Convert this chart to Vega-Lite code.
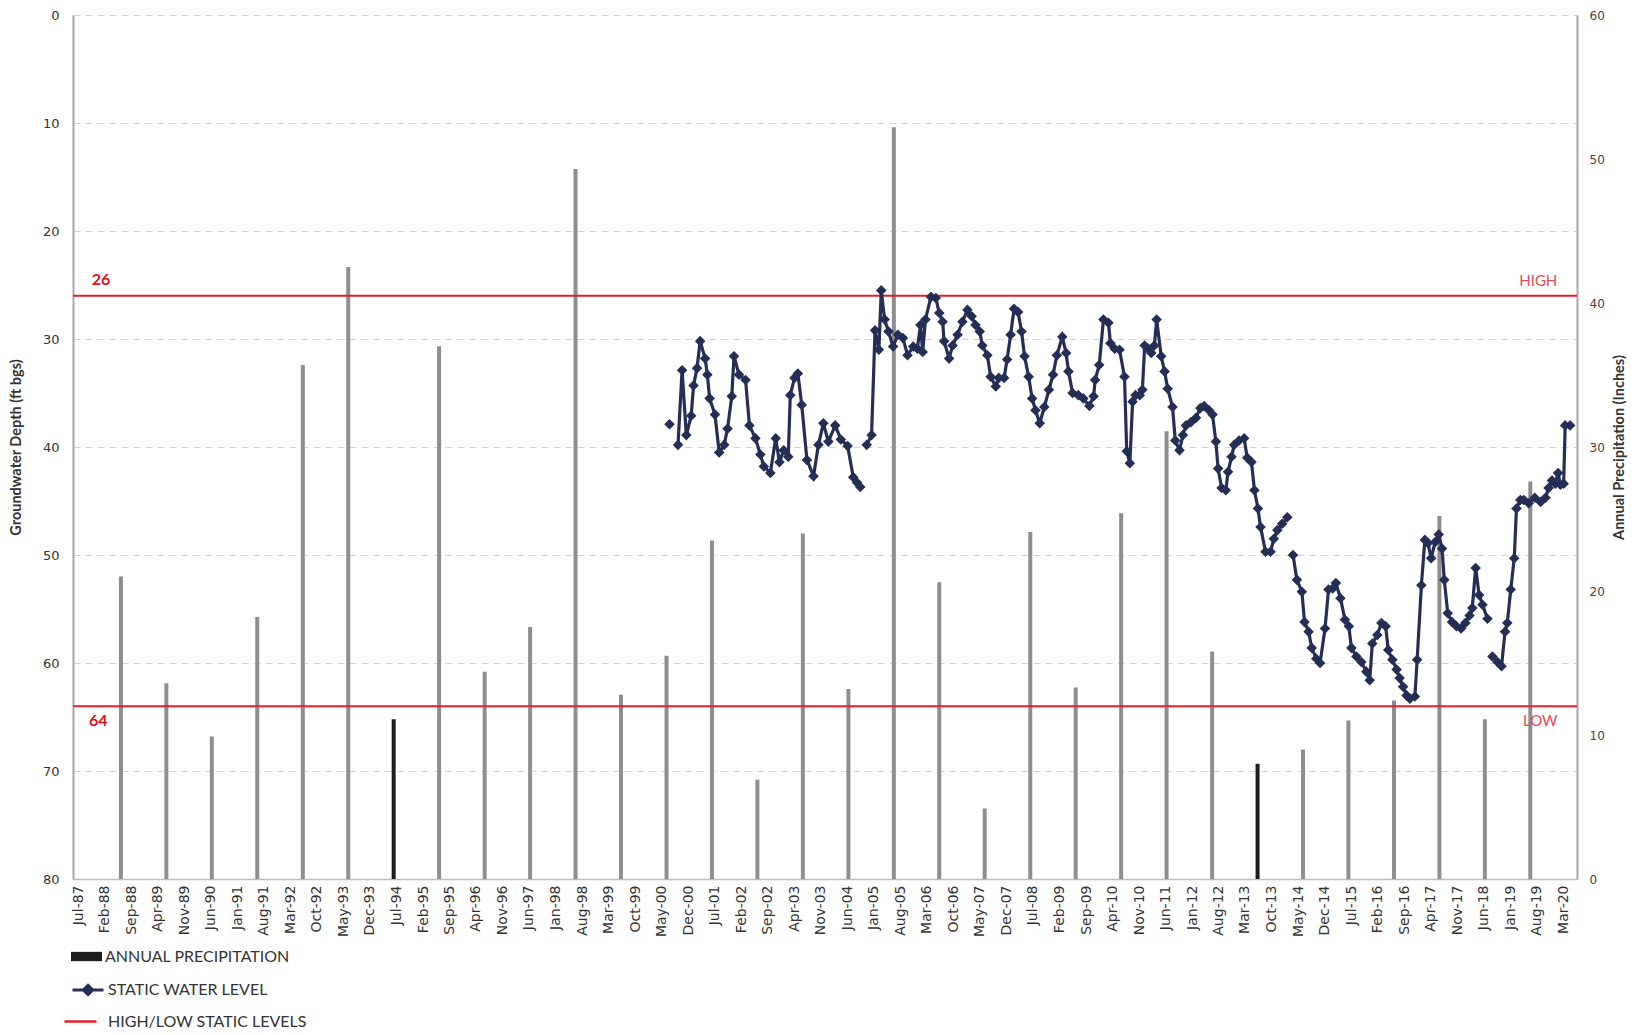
{
  "$schema": "https://vega.github.io/schema/vega-lite/v6.json",
  "width": 1504,
  "height": 864,
  "autosize": {"type": "none"},
  "padding": {"left": 73, "top": 15, "right": 71, "bottom": 156},
  "background": "white",
  "config": {"view": {"stroke": null}, "font": "DejaVu Sans", "axisX": {"labelOverlap": false, "tickCount": 200}},
  "datasets": {
    "precip": [
      {"date": "1988/06/10", "precip": 21.0},
      {"date": "1989/06/10", "precip": 13.6},
      {"date": "1990/06/10", "precip": 9.9},
      {"date": "1991/06/10", "precip": 18.2},
      {"date": "1992/06/10", "precip": 35.7},
      {"date": "1993/06/10", "precip": 42.5},
      {"date": "1994/06/10", "precip": 11.1},
      {"date": "1995/06/10", "precip": 37.0},
      {"date": "1996/06/10", "precip": 14.4},
      {"date": "1997/06/10", "precip": 17.5},
      {"date": "1998/06/10", "precip": 49.3},
      {"date": "1999/06/10", "precip": 12.8},
      {"date": "2000/06/10", "precip": 15.5},
      {"date": "2001/06/10", "precip": 23.5},
      {"date": "2002/06/10", "precip": 6.9},
      {"date": "2003/06/10", "precip": 24.0},
      {"date": "2004/06/10", "precip": 13.2},
      {"date": "2005/06/10", "precip": 52.2},
      {"date": "2006/06/10", "precip": 20.6},
      {"date": "2007/06/10", "precip": 4.9},
      {"date": "2008/06/10", "precip": 24.1},
      {"date": "2009/06/10", "precip": 13.3},
      {"date": "2010/06/10", "precip": 25.4},
      {"date": "2011/06/10", "precip": 31.1},
      {"date": "2012/06/10", "precip": 15.8},
      {"date": "2013/06/10", "precip": 8.0},
      {"date": "2014/06/10", "precip": 9.0},
      {"date": "2015/06/10", "precip": 11.0},
      {"date": "2016/06/10", "precip": 12.4},
      {"date": "2017/06/10", "precip": 25.2},
      {"date": "2018/06/10", "precip": 11.1},
      {"date": "2019/06/10", "precip": 27.6}
    ],
    "levels": [
      {"depth": 26},
      {"depth": 64}
    ],
    "water": [
      {"date": "2000/07/04", "depth": 37.9, "seg": 0},
      {"date": "2000/09/10", "depth": 39.8, "seg": 1},
      {"date": "2000/10/13", "depth": 32.9, "seg": 1},
      {"date": "2000/11/16", "depth": 38.9, "seg": 1},
      {"date": "2000/12/25", "depth": 37.1, "seg": 1},
      {"date": "2001/01/13", "depth": 34.3, "seg": 1},
      {"date": "2001/02/10", "depth": 32.7, "seg": 1},
      {"date": "2001/03/07", "depth": 30.2, "seg": 1},
      {"date": "2001/04/16", "depth": 31.8, "seg": 1},
      {"date": "2001/05/04", "depth": 33.3, "seg": 1},
      {"date": "2001/05/22", "depth": 35.5, "seg": 1},
      {"date": "2001/07/04", "depth": 37.0, "seg": 1},
      {"date": "2001/08/07", "depth": 40.5, "seg": 1},
      {"date": "2001/09/16", "depth": 39.8, "seg": 1},
      {"date": "2001/10/13", "depth": 38.3, "seg": 1},
      {"date": "2001/11/16", "depth": 35.3, "seg": 1},
      {"date": "2001/12/04", "depth": 31.6, "seg": 1},
      {"date": "2002/01/13", "depth": 33.3, "seg": 1},
      {"date": "2002/03/07", "depth": 33.8, "seg": 1},
      {"date": "2002/04/07", "depth": 38.0, "seg": 1},
      {"date": "2002/05/25", "depth": 39.2, "seg": 1},
      {"date": "2002/07/04", "depth": 40.7, "seg": 1},
      {"date": "2002/08/01", "depth": 41.8, "seg": 1},
      {"date": "2002/09/22", "depth": 42.4, "seg": 1},
      {"date": "2002/11/04", "depth": 39.2, "seg": 1},
      {"date": "2002/12/04", "depth": 41.4, "seg": 1},
      {"date": "2003/01/07", "depth": 40.3, "seg": 1},
      {"date": "2003/02/13", "depth": 40.9, "seg": 1},
      {"date": "2003/03/01", "depth": 35.2, "seg": 1},
      {"date": "2003/04/04", "depth": 33.6, "seg": 1},
      {"date": "2003/05/01", "depth": 33.2, "seg": 1},
      {"date": "2003/06/01", "depth": 36.1, "seg": 1},
      {"date": "2003/07/13", "depth": 41.2, "seg": 1},
      {"date": "2003/09/04", "depth": 42.7, "seg": 1},
      {"date": "2003/10/13", "depth": 39.8, "seg": 1},
      {"date": "2003/11/22", "depth": 37.8, "seg": 1},
      {"date": "2004/01/01", "depth": 39.5, "seg": 1},
      {"date": "2004/02/25", "depth": 38.0, "seg": 1},
      {"date": "2004/04/10", "depth": 39.3, "seg": 1},
      {"date": "2004/06/04", "depth": 39.9, "seg": 1},
      {"date": "2004/07/19", "depth": 42.8, "seg": 1},
      {"date": "2004/08/19", "depth": 43.3, "seg": 1},
      {"date": "2004/09/13", "depth": 43.7, "seg": 1},
      {"date": "2004/11/04", "depth": 39.8, "seg": 2},
      {"date": "2004/12/13", "depth": 38.9, "seg": 2},
      {"date": "2005/01/10", "depth": 29.2, "seg": 2},
      {"date": "2005/02/10", "depth": 31.0, "seg": 2},
      {"date": "2005/03/01", "depth": 25.5, "seg": 2},
      {"date": "2005/03/28", "depth": 28.2, "seg": 2},
      {"date": "2005/04/28", "depth": 29.3, "seg": 2},
      {"date": "2005/06/04", "depth": 30.7, "seg": 2},
      {"date": "2005/07/13", "depth": 29.6, "seg": 2},
      {"date": "2005/08/22", "depth": 29.9, "seg": 2},
      {"date": "2005/09/28", "depth": 31.5, "seg": 2},
      {"date": "2005/11/13", "depth": 30.7, "seg": 2},
      {"date": "2005/12/16", "depth": 30.9, "seg": 2},
      {"date": "2006/01/10", "depth": 28.7, "seg": 2},
      {"date": "2006/01/28", "depth": 31.2, "seg": 2},
      {"date": "2006/02/19", "depth": 28.2, "seg": 2},
      {"date": "2006/04/04", "depth": 26.1, "seg": 2},
      {"date": "2006/05/13", "depth": 26.2, "seg": 2},
      {"date": "2006/06/10", "depth": 27.6, "seg": 2},
      {"date": "2006/07/07", "depth": 28.4, "seg": 2},
      {"date": "2006/07/19", "depth": 30.2, "seg": 2},
      {"date": "2006/08/28", "depth": 31.8, "seg": 2},
      {"date": "2006/09/25", "depth": 30.6, "seg": 2},
      {"date": "2006/11/04", "depth": 29.6, "seg": 2},
      {"date": "2006/12/13", "depth": 28.4, "seg": 2},
      {"date": "2007/01/22", "depth": 27.3, "seg": 2},
      {"date": "2007/02/25", "depth": 27.9, "seg": 2},
      {"date": "2007/03/28", "depth": 28.7, "seg": 2},
      {"date": "2007/05/01", "depth": 29.3, "seg": 2},
      {"date": "2007/05/22", "depth": 30.6, "seg": 2},
      {"date": "2007/07/01", "depth": 31.5, "seg": 2},
      {"date": "2007/07/28", "depth": 33.5, "seg": 2},
      {"date": "2007/09/07", "depth": 34.4, "seg": 2},
      {"date": "2007/10/01", "depth": 33.6, "seg": 2},
      {"date": "2007/11/13", "depth": 33.6, "seg": 2},
      {"date": "2007/12/07", "depth": 31.9, "seg": 2},
      {"date": "2008/01/04", "depth": 29.6, "seg": 2},
      {"date": "2008/02/01", "depth": 27.2, "seg": 2},
      {"date": "2008/03/04", "depth": 27.5, "seg": 2},
      {"date": "2008/04/01", "depth": 29.3, "seg": 2},
      {"date": "2008/04/25", "depth": 31.6, "seg": 2},
      {"date": "2008/05/28", "depth": 33.5, "seg": 2},
      {"date": "2008/06/25", "depth": 35.5, "seg": 2},
      {"date": "2008/07/22", "depth": 36.6, "seg": 2},
      {"date": "2008/08/25", "depth": 37.8, "seg": 2},
      {"date": "2008/10/01", "depth": 36.3, "seg": 2},
      {"date": "2008/11/07", "depth": 34.7, "seg": 2},
      {"date": "2008/12/10", "depth": 33.3, "seg": 2},
      {"date": "2009/01/10", "depth": 31.5, "seg": 2},
      {"date": "2009/02/22", "depth": 29.8, "seg": 2},
      {"date": "2009/03/25", "depth": 31.3, "seg": 2},
      {"date": "2009/04/13", "depth": 33.0, "seg": 2},
      {"date": "2009/05/16", "depth": 35.0, "seg": 2},
      {"date": "2009/07/01", "depth": 35.2, "seg": 2},
      {"date": "2009/08/10", "depth": 35.5, "seg": 2},
      {"date": "2009/09/28", "depth": 36.2, "seg": 2},
      {"date": "2009/11/01", "depth": 35.3, "seg": 2},
      {"date": "2009/11/13", "depth": 33.8, "seg": 2},
      {"date": "2009/12/16", "depth": 32.4, "seg": 2},
      {"date": "2010/01/19", "depth": 28.2, "seg": 2},
      {"date": "2010/02/28", "depth": 28.5, "seg": 2},
      {"date": "2010/03/16", "depth": 30.4, "seg": 2},
      {"date": "2010/04/19", "depth": 30.9, "seg": 2},
      {"date": "2010/05/28", "depth": 31.0, "seg": 2},
      {"date": "2010/07/07", "depth": 33.5, "seg": 2},
      {"date": "2010/07/25", "depth": 40.4, "seg": 2},
      {"date": "2010/08/19", "depth": 41.5, "seg": 2},
      {"date": "2010/09/10", "depth": 35.8, "seg": 2},
      {"date": "2010/10/04", "depth": 35.2, "seg": 2},
      {"date": "2010/11/07", "depth": 35.2, "seg": 2},
      {"date": "2010/11/28", "depth": 34.7, "seg": 2},
      {"date": "2010/12/16", "depth": 30.6, "seg": 2},
      {"date": "2011/01/13", "depth": 30.9, "seg": 2},
      {"date": "2011/02/07", "depth": 31.3, "seg": 2},
      {"date": "2011/03/04", "depth": 30.6, "seg": 2},
      {"date": "2011/03/22", "depth": 28.2, "seg": 2},
      {"date": "2011/04/28", "depth": 31.6, "seg": 2},
      {"date": "2011/05/25", "depth": 33.0, "seg": 2},
      {"date": "2011/06/19", "depth": 34.6, "seg": 2},
      {"date": "2011/07/28", "depth": 36.3, "seg": 2},
      {"date": "2011/08/19", "depth": 39.4, "seg": 2},
      {"date": "2011/09/22", "depth": 40.3, "seg": 2},
      {"date": "2011/10/19", "depth": 38.9, "seg": 2},
      {"date": "2011/11/13", "depth": 38.0, "seg": 2},
      {"date": "2011/12/22", "depth": 37.7, "seg": 2},
      {"date": "2012/02/01", "depth": 37.3, "seg": 2},
      {"date": "2012/03/07", "depth": 36.4, "seg": 2},
      {"date": "2012/04/07", "depth": 36.2, "seg": 2},
      {"date": "2012/05/16", "depth": 36.6, "seg": 2},
      {"date": "2012/06/13", "depth": 37.0, "seg": 2},
      {"date": "2012/07/10", "depth": 39.5, "seg": 2},
      {"date": "2012/07/28", "depth": 42.0, "seg": 2},
      {"date": "2012/08/25", "depth": 43.8, "seg": 2},
      {"date": "2012/09/28", "depth": 44.0, "seg": 2},
      {"date": "2012/10/16", "depth": 42.3, "seg": 2},
      {"date": "2012/11/13", "depth": 40.9, "seg": 2},
      {"date": "2012/12/04", "depth": 39.8, "seg": 2},
      {"date": "2013/01/13", "depth": 39.4, "seg": 2},
      {"date": "2013/02/22", "depth": 39.2, "seg": 2},
      {"date": "2013/03/19", "depth": 41.0, "seg": 2},
      {"date": "2013/04/22", "depth": 41.4, "seg": 2},
      {"date": "2013/05/16", "depth": 44.0, "seg": 2},
      {"date": "2013/06/13", "depth": 45.7, "seg": 2},
      {"date": "2013/07/04", "depth": 47.4, "seg": 2},
      {"date": "2013/08/13", "depth": 49.7, "seg": 2},
      {"date": "2013/09/22", "depth": 49.7, "seg": 2},
      {"date": "2013/10/19", "depth": 48.5, "seg": 2},
      {"date": "2013/11/16", "depth": 47.7, "seg": 2},
      {"date": "2013/12/25", "depth": 47.1, "seg": 2},
      {"date": "2014/02/04", "depth": 46.5, "seg": 2},
      {"date": "2014/03/22", "depth": 50.0, "seg": 3},
      {"date": "2014/04/22", "depth": 52.3, "seg": 3},
      {"date": "2014/06/01", "depth": 53.4, "seg": 3},
      {"date": "2014/06/22", "depth": 56.2, "seg": 3},
      {"date": "2014/07/25", "depth": 57.1, "seg": 3},
      {"date": "2014/08/19", "depth": 58.6, "seg": 3},
      {"date": "2014/09/25", "depth": 59.6, "seg": 3},
      {"date": "2014/10/25", "depth": 60.0, "seg": 3},
      {"date": "2014/12/04", "depth": 56.8, "seg": 3},
      {"date": "2015/01/01", "depth": 53.2, "seg": 3},
      {"date": "2015/02/04", "depth": 53.1, "seg": 3},
      {"date": "2015/03/01", "depth": 52.6, "seg": 3},
      {"date": "2015/04/07", "depth": 54.0, "seg": 3},
      {"date": "2015/05/13", "depth": 56.0, "seg": 3},
      {"date": "2015/06/13", "depth": 56.6, "seg": 3},
      {"date": "2015/07/04", "depth": 58.6, "seg": 3},
      {"date": "2015/08/13", "depth": 59.4, "seg": 3},
      {"date": "2015/09/22", "depth": 59.9, "seg": 3},
      {"date": "2015/11/01", "depth": 60.8, "seg": 3},
      {"date": "2015/11/28", "depth": 61.6, "seg": 3},
      {"date": "2015/12/19", "depth": 58.2, "seg": 3},
      {"date": "2016/01/28", "depth": 57.4, "seg": 3},
      {"date": "2016/03/01", "depth": 56.3, "seg": 3},
      {"date": "2016/04/04", "depth": 56.6, "seg": 3},
      {"date": "2016/04/25", "depth": 58.8, "seg": 3},
      {"date": "2016/05/28", "depth": 59.7, "seg": 3},
      {"date": "2016/07/01", "depth": 60.6, "seg": 3},
      {"date": "2016/07/25", "depth": 61.4, "seg": 3},
      {"date": "2016/08/22", "depth": 62.2, "seg": 3},
      {"date": "2016/09/19", "depth": 63.0, "seg": 3},
      {"date": "2016/10/16", "depth": 63.3, "seg": 3},
      {"date": "2016/11/25", "depth": 63.1, "seg": 3},
      {"date": "2016/12/13", "depth": 59.7, "seg": 3},
      {"date": "2017/01/16", "depth": 52.8, "seg": 3},
      {"date": "2017/02/13", "depth": 48.6, "seg": 3},
      {"date": "2017/03/10", "depth": 48.9, "seg": 3},
      {"date": "2017/04/04", "depth": 50.3, "seg": 3},
      {"date": "2017/05/07", "depth": 48.8, "seg": 3},
      {"date": "2017/06/04", "depth": 48.1, "seg": 3},
      {"date": "2017/07/01", "depth": 49.4, "seg": 3},
      {"date": "2017/07/19", "depth": 52.3, "seg": 3},
      {"date": "2017/08/16", "depth": 55.4, "seg": 3},
      {"date": "2017/09/19", "depth": 56.2, "seg": 3},
      {"date": "2017/10/25", "depth": 56.6, "seg": 3},
      {"date": "2017/12/01", "depth": 56.8, "seg": 3},
      {"date": "2018/01/04", "depth": 56.3, "seg": 3},
      {"date": "2018/02/07", "depth": 55.6, "seg": 3},
      {"date": "2018/03/01", "depth": 54.9, "seg": 3},
      {"date": "2018/03/28", "depth": 51.2, "seg": 3},
      {"date": "2018/04/25", "depth": 53.7, "seg": 3},
      {"date": "2018/05/22", "depth": 54.6, "seg": 3},
      {"date": "2018/07/01", "depth": 55.9, "seg": 3},
      {"date": "2018/08/10", "depth": 59.4, "seg": 4},
      {"date": "2018/09/19", "depth": 59.9, "seg": 4},
      {"date": "2018/10/22", "depth": 60.3, "seg": 4},
      {"date": "2018/11/19", "depth": 57.1, "seg": 4},
      {"date": "2018/12/07", "depth": 56.3, "seg": 4},
      {"date": "2019/01/04", "depth": 53.2, "seg": 4},
      {"date": "2019/02/01", "depth": 50.3, "seg": 4},
      {"date": "2019/02/19", "depth": 45.7, "seg": 4},
      {"date": "2019/03/22", "depth": 44.9, "seg": 4},
      {"date": "2019/04/19", "depth": 44.9, "seg": 4},
      {"date": "2019/05/28", "depth": 45.2, "seg": 4},
      {"date": "2019/07/16", "depth": 44.7, "seg": 4},
      {"date": "2019/09/01", "depth": 45.1, "seg": 4},
      {"date": "2019/10/10", "depth": 44.7, "seg": 4},
      {"date": "2019/11/04", "depth": 43.8, "seg": 4},
      {"date": "2019/12/01", "depth": 43.1, "seg": 4},
      {"date": "2019/12/28", "depth": 43.4, "seg": 4},
      {"date": "2020/01/19", "depth": 42.4, "seg": 4},
      {"date": "2020/02/07", "depth": 43.5, "seg": 4},
      {"date": "2020/03/04", "depth": 43.4, "seg": 4},
      {"date": "2020/03/16", "depth": 38.0, "seg": 4},
      {"date": "2020/04/25", "depth": 38.0, "seg": 4}
    ]
  },
  "resolve": {"scale": {"y": "independent"}},
  "layer": [
    {
      "data": {"name": "precip"},
      "mark": {"type": "bar", "size": 4},
      "encoding": {
        "x": {
          "field": "date",
          "type": "temporal",
          "scale": {"domain": [{"year": 1987, "month": 7, "date": 1}, {"year": 2020, "month": 5, "date": 10}]},
          "axis": {
            "title": null,
            "format": "%b-%y",
            "labelAngle": 270,
            "labelFont": "DejaVu Sans",
            "labelFontSize": 14,
            "labelColor": "#333333",
            "labelPadding": 6,
            "labelOverlap": false,
            "labelFlush": false,
            "labelBound": false,
            "tickCount": 200,
            "ticks": false,
            "grid": false,
            "domainColor": "#bdbdbd",
            "domainWidth": 1.5,
            "values": [{"year":1987,"month":7,"date":1},{"year":1988,"month":2,"date":1},{"year":1988,"month":9,"date":1},{"year":1989,"month":4,"date":1},{"year":1989,"month":11,"date":1},{"year":1990,"month":6,"date":1},{"year":1991,"month":1,"date":1},{"year":1991,"month":8,"date":1},{"year":1992,"month":3,"date":1},{"year":1992,"month":10,"date":1},{"year":1993,"month":5,"date":1},{"year":1993,"month":12,"date":1},{"year":1994,"month":7,"date":1},{"year":1995,"month":2,"date":1},{"year":1995,"month":9,"date":1},{"year":1996,"month":4,"date":1},{"year":1996,"month":11,"date":1},{"year":1997,"month":6,"date":1},{"year":1998,"month":1,"date":1},{"year":1998,"month":8,"date":1},{"year":1999,"month":3,"date":1},{"year":1999,"month":10,"date":1},{"year":2000,"month":5,"date":1},{"year":2000,"month":12,"date":1},{"year":2001,"month":7,"date":1},{"year":2002,"month":2,"date":1},{"year":2002,"month":9,"date":1},{"year":2003,"month":4,"date":1},{"year":2003,"month":11,"date":1},{"year":2004,"month":6,"date":1},{"year":2005,"month":1,"date":1},{"year":2005,"month":8,"date":1},{"year":2006,"month":3,"date":1},{"year":2006,"month":10,"date":1},{"year":2007,"month":5,"date":1},{"year":2007,"month":12,"date":1},{"year":2008,"month":7,"date":1},{"year":2009,"month":2,"date":1},{"year":2009,"month":9,"date":1},{"year":2010,"month":4,"date":1},{"year":2010,"month":11,"date":1},{"year":2011,"month":6,"date":1},{"year":2012,"month":1,"date":1},{"year":2012,"month":8,"date":1},{"year":2013,"month":3,"date":1},{"year":2013,"month":10,"date":1},{"year":2014,"month":5,"date":1},{"year":2014,"month":12,"date":1},{"year":2015,"month":7,"date":1},{"year":2016,"month":2,"date":1},{"year":2016,"month":9,"date":1},{"year":2017,"month":4,"date":1},{"year":2017,"month":11,"date":1},{"year":2018,"month":6,"date":1},{"year":2019,"month":1,"date":1},{"year":2019,"month":8,"date":1},{"year":2020,"month":3,"date":1}]
          }
        },
        "y": {
          "field": "precip",
          "type": "quantitative",
          "scale": {"domain": [0, 60]},
          "axis": {
            "orient": "right",
            "title": "Annual Precipitation (Inches)",
            "titleAngle": 270,
            "titleFont": "Lato",
            "titleFontWeight": "bold",
            "titleFontSize": 14.5,
            "titleColor": "#333333",
            "titlePadding": 22,
            "values": [0, 10, 20, 30, 40, 50, 60],
            "labelFont": "DejaVu Sans",
            "labelFontSize": 12,
            "labelColor": "#444444",
            "labelPadding": 12,
            "ticks": false,
            "grid": false,
            "domainColor": "#a8a8a8",
            "domainWidth": 2
          }
        },
        "fill": {
          "condition": {"test": "year(datum.date) != 1994 && year(datum.date) != 2013", "value": "#8e8e8e"},
          "datum": "ANNUAL PRECIPITATION",
          "scale": {"range": ["#1c1c1c"]},
          "legend": {
            "orient": "none",
            "legendX": -2,
            "legendY": 926,
            "title": null,
            "padding": 0,
            "symbolType": "M-1,-0.3H1V0.3H-1Z",
            "symbolSize": 961,
            "symbolStrokeWidth": 0,
            "labelOffset": 3,
            "labelFont": "Lato",
            "labelFontSize": 16,
            "labelColor": "#333333",
            "labelLimit": 0
          }
        }
      }
    },
    {
      "layer": [
        {
          "data": {"name": "levels"},
          "mark": {"type": "rule", "color": "#e3202c", "strokeWidth": 2},
          "encoding": {
            "y": {
              "field": "depth",
              "type": "quantitative",
              "scale": {"domain": [0, 80], "reverse": true},
              "axis": {
                "orient": "left",
                "title": "Groundwater Depth (ft bgs)",
                "titleFont": "Lato",
                "titleFontWeight": "bold",
                "titleFontSize": 14.5,
                "titleColor": "#333333",
                "titlePadding": 19,
                "values": [0, 10, 20, 30, 40, 50, 60, 70, 80],
                "labelFont": "DejaVu Sans",
                "labelFontSize": 13,
                "labelColor": "#333333",
                "labelPadding": 14,
                "ticks": false,
                "grid": true,
                "gridColor": "#d4d4d4",
                "gridDash": [7, 5],
                "gridWidth": 1,
                "domainColor": "#a8a8a8",
                "domainWidth": 2
              }
            },
            "strokeDash": {
              "datum": "HIGH/LOW STATIC LEVELS",
              "scale": {"range": [[1, 0]]},
              "legend": {
                "orient": "none",
                "legendX": -10,
                "legendY": 989,
                "title": null,
                "padding": 0,
                "symbolType": "M-1,0H1",
                "symbolSize": 1024,
                "symbolStrokeColor": "#e3202c",
                "symbolStrokeWidth": 2.5,
                "labelOffset": 10,
                "labelFont": "Lato",
                "labelFontSize": 16,
                "labelColor": "#333333",
                "labelLimit": 0
              }
            }
          }
        },
        {
          "data": {"name": "water"},
          "mark": {
            "type": "line",
            "strokeWidth": 3.2,
            "point": {"shape": "diamond", "filled": true, "size": 60, "fill": "#252e55"}
          },
          "encoding": {
            "x": {"field": "date", "type": "temporal", "scale": {"domain": [{"year": 1987, "month": 7, "date": 1}, {"year": 2020, "month": 5, "date": 10}]}, "axis": {"labelOverlap": false, "tickCount": 200, "title": null}},
            "y": {"field": "depth", "type": "quantitative", "scale": {"domain": [0, 80], "reverse": true}},
            "detail": {"field": "seg", "type": "nominal"},
            "stroke": {
              "datum": "STATIC WATER LEVEL",
              "scale": {"range": ["#252e55"]},
              "legend": {
                "orient": "none",
                "legendX": -2,
                "legendY": 958,
                "title": null,
                "padding": 0,
                "symbolType": "M-1,0H1M0,-0.3L0.3,0L0,0.3L-0.3,0Z",
                "symbolSize": 961,
                "symbolFillColor": "#252e55",
                "symbolStrokeWidth": 3,
                "labelOffset": 3,
                "labelFont": "Lato",
                "labelFontSize": 16,
                "labelColor": "#333333",
                "labelLimit": 0
              }
            }
          }
        },
        {
          "data": {"values": [{}]},
          "mark": {"type": "text", "text": "26", "color": "#e3101c", "fontWeight": "bold", "fontSize": 16, "font": "Lato", "align": "left", "baseline": "middle", "dy": -16},
          "encoding": {
            "x": {"datum": {"year": 1987, "month": 10, "date": 20}, "type": "temporal", "axis": {"labelOverlap": false, "tickCount": 200, "title": null}},
            "y": {"datum": 26, "type": "quantitative"}
          }
        },
        {
          "data": {"values": [{}]},
          "mark": {"type": "text", "text": "64", "color": "#e3101c", "fontWeight": "bold", "fontSize": 16, "font": "Lato", "align": "left", "baseline": "middle", "dy": 15},
          "encoding": {
            "x": {"datum": {"year": 1987, "month": 9, "date": 28}, "type": "temporal", "axis": {"labelOverlap": false, "tickCount": 200, "title": null}},
            "y": {"datum": 64, "type": "quantitative"}
          }
        },
        {
          "data": {"values": [{}]},
          "mark": {"type": "text", "text": "HIGH", "color": "#ea4a55", "fontSize": 15, "font": "Lato", "align": "right", "baseline": "middle", "dy": -15},
          "encoding": {
            "x": {"datum": {"year": 2020, "month": 1, "date": 13}, "type": "temporal", "axis": {"labelOverlap": false, "tickCount": 200, "title": null}},
            "y": {"datum": 26, "type": "quantitative"}
          }
        },
        {
          "data": {"values": [{}]},
          "mark": {"type": "text", "text": "LOW", "color": "#ea4a55", "fontSize": 15, "font": "Lato", "align": "right", "baseline": "middle", "dy": 15},
          "encoding": {
            "x": {"datum": {"year": 2020, "month": 1, "date": 15}, "type": "temporal", "axis": {"labelOverlap": false, "tickCount": 200, "title": null}},
            "y": {"datum": 64, "type": "quantitative"}
          }
        }
      ]
    }
  ]
}
